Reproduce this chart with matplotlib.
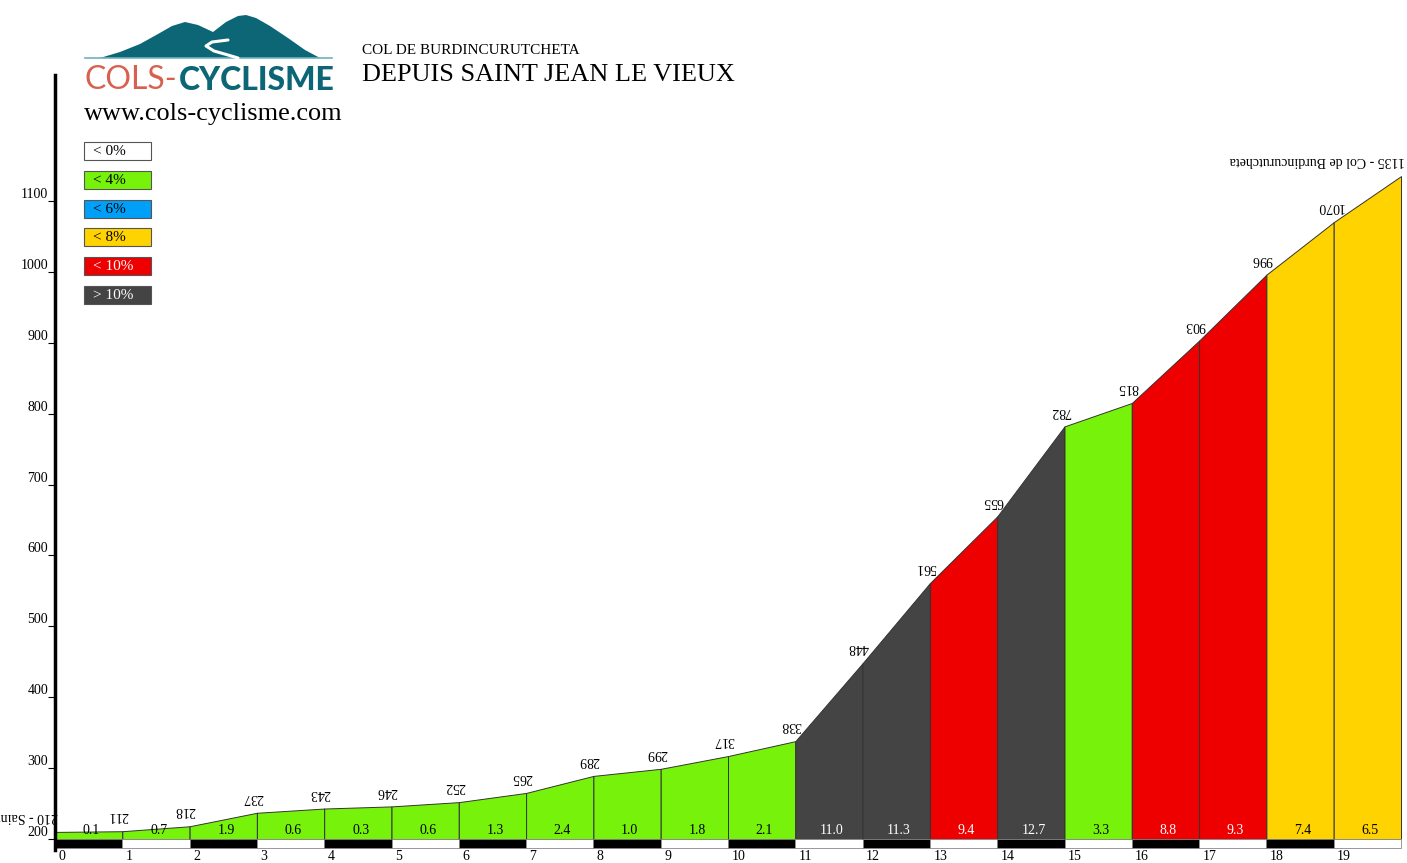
import matplotlib
matplotlib.use('Agg')
import matplotlib.pyplot as plt
from matplotlib.patches import Rectangle, Polygon

km = list(range(21))
elev = [210, 211, 218, 237, 243, 246, 252, 265, 289, 299, 317, 338,
        448, 561, 655, 782, 815, 903, 996, 1070, 1135]
grades = [0.1, 0.7, 1.9, 0.6, 0.3, 0.6, 1.3, 2.4, 1.0, 1.8, 2.1,
          11.0, 11.3, 9.4, 12.7, 3.3, 8.8, 9.3, 7.4, 6.5]
start_name = "210 - Saint Jean le Vieux"
end_name = "1135 - Col de Burdincurutcheta"
yticks = list(range(200, 1101, 100))
legend_labels = ['< 0%', '< 4%', '< 6%', '< 8%', '< 10%', '> 10%']
legend_colors = ['#ffffff', '#77f30b', '#00a0f8', '#ffd300', '#ee0000', '#444444']
legend_text = ['black', 'black', 'black', 'black', 'white', 'white']

serif = 'Liberation Serif'
base = 200


def grade_color(g):
    if g < 0:
        return legend_colors[0], 'black'
    if g < 4:
        return legend_colors[1], 'black'
    if g < 6:
        return legend_colors[2], 'black'
    if g < 8:
        return legend_colors[3], 'black'
    if g < 10:
        return legend_colors[4], 'white'
    return legend_colors[5], 'white'


W, H = 1407, 863
fig = plt.figure(figsize=(W / 100, H / 100), dpi=100)

# overlay in pixel coords for header/logo/legend
deco = fig.add_axes([0, 0, 1, 1])
deco.set_xlim(0, W)
deco.set_ylim(H, 0)
deco.axis('off')

ax = fig.add_axes([55 / W, 13 / H, 1346 / W, 775 / H])
ax.set_xlim(0, 20)
ax.set_ylim(184.5, 1277.6)

for i, g in enumerate(grades):
    fc, tc = grade_color(g)
    x0, x1 = km[i], km[i + 1]
    ax.fill_between([x0, x1], [base, base], [elev[i], elev[i + 1]],
                    facecolor=fc, edgecolor='#333333', linewidth=0.7)
    ax.annotate(f"{g:.1f}", ((x0 + x1) / 2, base), xytext=(2, 1.5),
                textcoords='offset points', ha='center', va='bottom',
                fontsize=10, family=serif, color=tc)
    # distance stripe
    ax.add_patch(Rectangle((x0, 187.3), 1, base - 187.3,
                           facecolor='black' if i % 2 == 0 else 'white',
                           edgecolor='#888888', linewidth=0.6, clip_on=False))
    ax.text(x0 + 0.05, 184.5, str(km[i]), ha='left', va='top',
            fontsize=10, family=serif)

for k, e in zip(km[1:-1], elev[1:-1]):
    ax.annotate(str(e), (k, e), xytext=(-3, 11), textcoords='offset points',
                rotation=180, ha='center', va='center', fontsize=10, family=serif)

ax.annotate(start_name, (km[0], elev[0]), xytext=(2, 11), textcoords='offset points',
            rotation=180, ha='right', va='center', fontsize=10, family=serif)
ax.annotate(end_name, (km[-1], elev[-1]), xytext=(3, 11), textcoords='offset points',
            rotation=180, ha='right', va='center', fontsize=10, family=serif)

for s in ['top', 'right', 'bottom']:
    ax.spines[s].set_visible(False)
ax.spines['left'].set_linewidth(2.5)
ax.set_xticks([])
ax.set_yticks(yticks)
ax.set_yticklabels([str(v) for v in yticks], family=serif, fontsize=10)
ax.tick_params(axis='y', length=5, width=0.8, pad=0, direction='out')
for lab in ax.get_yticklabels():
    lab.set_va('bottom')
ax.patch.set_alpha(0)

# titles
deco.text(362, 50, "COL DE BURDINCURUTCHETA", family=serif, fontsize=11,
          va='center', ha='left')
deco.text(362, 75, "DEPUIS SAINT JEAN LE VIEUX", family=serif, fontsize=18.9,
          va='center', ha='left')
deco.text(84, 114, "www.cols-cyclisme.com", family=serif, fontsize=18.9,
          va='center', ha='left')

# logo
teal = '#0c6676'
mountain = [(100, 58), (120, 52), (140, 44), (158, 34), (172, 26), (185, 22),
            (198, 25), (213, 32), (226, 22), (238, 16), (246, 15), (256, 18),
            (270, 26), (288, 38), (305, 50), (320, 58)]
deco.add_patch(Polygon(mountain, closed=True, facecolor=teal, edgecolor='none'))
deco.plot([85, 332], [58.5, 58.5], color='#6fb3bd', lw=1.2)
deco.plot([228, 212, 206, 214, 228, 238], [40, 42, 46, 51, 55, 58], color='white',
          lw=2.2, solid_capstyle='round')
renderer = fig.canvas.get_renderer()
t1 = deco.text(85, 80, "COLS-", family='Lato', fontsize=23, color='#d9604f',
               va='center', ha='left')
bb = t1.get_window_extent(renderer)
x_next = deco.transData.inverted().transform((bb.x1, bb.y0))[0]
deco.text(x_next + 1, 80, "CYCLISME", family='Lato', fontsize=23, color=teal,
          va='center', ha='left', fontweight='black')

# legend
for i, (lab, c, tc) in enumerate(zip(legend_labels, legend_colors, legend_text)):
    y = 142 + i * 28.8
    deco.add_patch(Rectangle((84, y), 67, 18, facecolor=c, edgecolor='#555555',
                             linewidth=0.8))
    deco.text(93, y + 9.5, lab, family=serif, fontsize=11, color=tc,
              va='center', ha='left')

fig.savefig('out.png', dpi=100)
